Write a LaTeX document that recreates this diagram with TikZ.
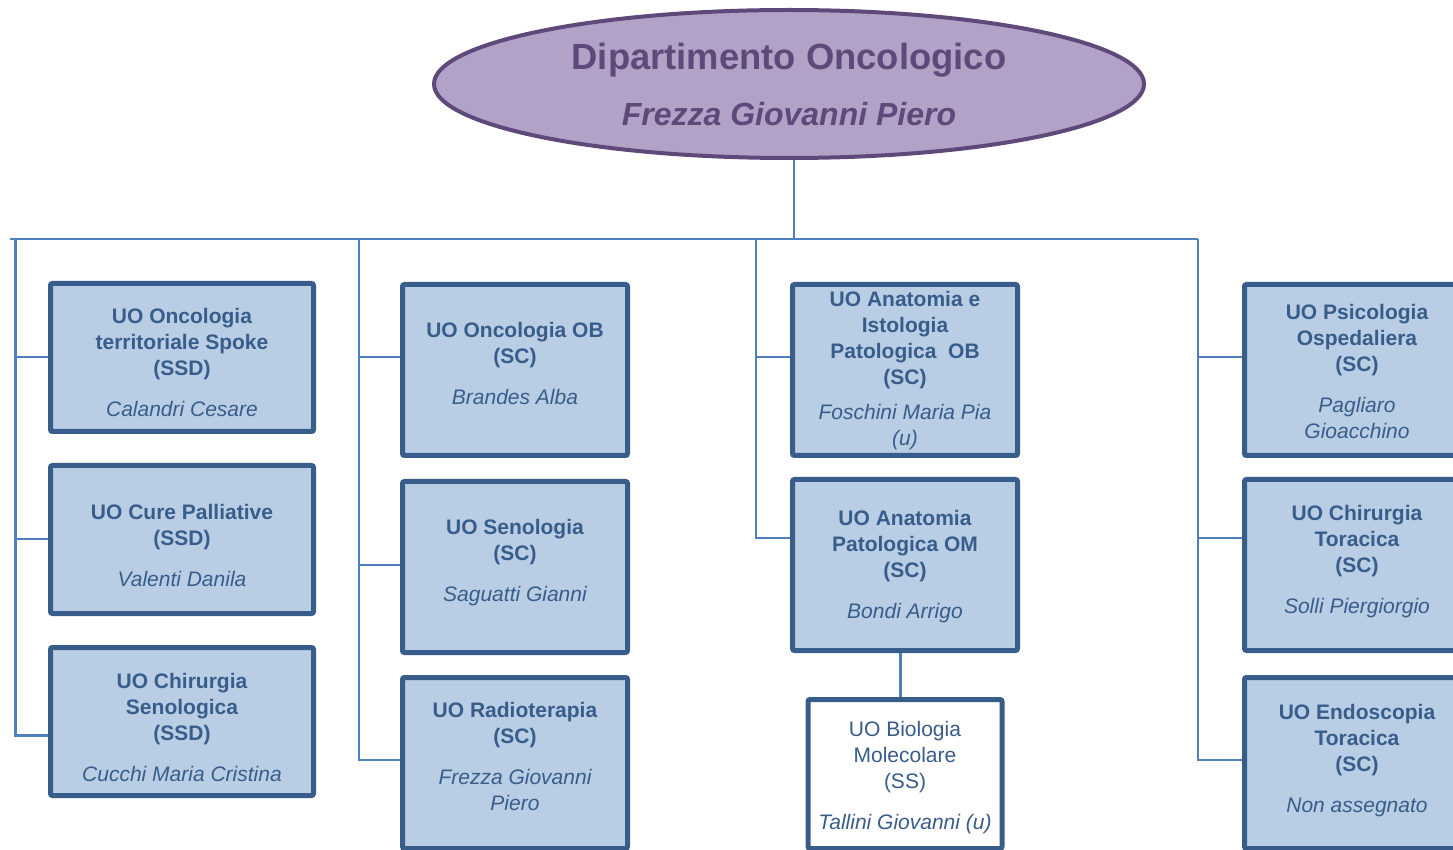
\documentclass[tikz,border=0pt]{standalone}
\usepackage{fontspec}
\setmainfont{Liberation Sans}
\usepackage{tikz}
\usetikzlibrary{shapes.geometric,positioning}
\definecolor{dipfill}{HTML}{B3A2C7}
\definecolor{dipline}{HTML}{5F497A}
\definecolor{uofill}{HTML}{B9CDE5}
\definecolor{uoline}{HTML}{385D8A}
\definecolor{linkblue}{HTML}{4F81BD}
\newcommand{\uoresp}[2][7.5pt]{\\[#1]{\normalfont\itshape #2}}
\tikzset{
uo_box/.style = {rectangle, draw=uoline, fill=uofill, line width=2.5pt, rounded corners=1pt,
text=uoline, align=flush center, inner sep=0pt, font=\fontsize{10.5}{13}\selectfont\bfseries},% unita' operativa
uo_a/.style = {uo_box, minimum width=131.5pt, minimum height=74pt, text width=126pt},% colonna 1
uo_b/.style = {uo_box, minimum width=112.5pt, minimum height=85.5pt, text width=108pt},% colonne 2-4
uo_w/.style = {uo_box, fill=white, font=\fontsize{10.5}{13}\selectfont, minimum width=97pt,
minimum height=74.5pt, text width=95pt},% struttura semplice
su/.style = {execute at end node={\par\vspace{#1}}},% sposta il testo (negativo = in basso)
dip/.style = {ellipse, draw=dipline, fill=dipfill, line width=2pt, text=dipline, inner sep=0pt,
minimum width=355pt, minimum height=74pt, align=flush center, text width=225pt,
font=\fontsize{18.2}{28}\selectfont\bfseries},% dipartimento
link/.style = {draw=linkblue, line width=1pt}
}

\begin{document}
\begin{tikzpicture}[x=0.5pt, y=-0.5pt]
  \useasboundingbox (0,0) rectangle (1453,850);
  \clip (0,0) rectangle (1453,850);

  % dipartimento
  \node [dip] (dip) at (789,84) {Dipartimento Oncologico\\
    \fontsize{16}{28}\selectfont\itshape Frezza Giovanni Piero};

  % colonna 1
  \node [uo_a, su=-5pt] (ots) at (182,357.5) {UO Oncologia\\territoriale Spoke\\(SSD)\uoresp{Calandri Cesare}};
  \node [uo_a, su=-5.5pt, below=14.5pt of ots] (cp) {UO Cure Palliative\\(SSD)\uoresp{Valenti Danila}};
  \node [uo_a, su=-5.5pt, below=14.5pt of cp] (chs) {UO Chirurgia\\Senologica\\(SSD)\uoresp{Cucchi Maria Cristina}};

  % colonna 2
  \node [uo_b, su=6.5pt] (oob) at (515,370) {UO Oncologia OB\\(SC)\uoresp{Brandes Alba}};
  \node [uo_b, su=4.5pt, below=10.5pt of oob] (sen) {UO Senologia\\(SC)\uoresp{Saguatti Gianni}};
  \node [uo_b, su=6.5pt, below=10pt of sen] (rad) {UO Radioterapia\\(SC)\uoresp{Frezza Giovanni\\Piero}};

  % colonna 3
  \node [uo_b, su=-1pt] (aio) at (905,370) {UO Anatomia e\\Istologia\\Patologica~ OB\\(SC)\uoresp[4.5pt]{Foschini Maria Pia\\(u)}};
  \node [uo_b, su=-2pt, below=9.5pt of aio] (apom) {UO Anatomia\\Patologica OM\\(SC)\uoresp{Bondi Arrigo}};
  \node [uo_w, su=-4pt, below=22pt of apom] (bio) {UO Biologia\\Molecolare\\(SS)\uoresp{Tallini Giovanni (u)}};

  % colonna 4
  \node [uo_b, su=-1pt] (pso) at (1357,370) {UO Psicologia\\Ospedaliera\\(SC)\uoresp{Pagliaro\\Gioacchino}};
  \node [uo_b, su=3.5pt, below=9.5pt of pso] (cht) {UO Chirurgia\\Toracica\\(SC)\uoresp{Solli Piergiorgio}};
  \node [uo_b, su=2.5pt, below=11pt of cht] (ent) {UO Endoscopia\\Toracica\\(SC)\uoresp{Non assegnato}};

  % collegamenti
  \coordinate (hub) at (794,239);
  \coordinate (bl) at (10,239);
  \coordinate (t1) at (15,239);
  \coordinate (t2) at (359,239);
  \coordinate (t3) at (756,239);
  \coordinate (t4) at (1198,239);
  \draw [link] (dip.south -| hub) -- (hub);
  \draw [link] (bl) -- (t4);
  \draw [link, line width=1.5pt] (t1) |- ([yshift=-7pt]chs.west);
  \draw [link] (t2) |- ([yshift=1.5pt]rad.west);
  \draw [link] (t3) |- ([yshift=13.5pt]apom.west);
  \draw [link] (t4) |- ([yshift=1.5pt]ent.west);
  \foreach \t/\n/\s in {t1/ots/0.25, t1/cp/0.25, t2/oob/6.5, t2/sen/1, t3/aio/6.5, t4/pso/6.5, t4/cht/13.5}
    {\path ([yshift=\s pt]\n.west) coordinate (br);
     \draw [link] (\t |- br) -- (br);}
  \draw [link, line width=1.5pt] ([xshift=-2.5pt]bio.north) -- ([xshift=-2.5pt]bio.north |- apom.south);
\end{tikzpicture}
\end{document}
